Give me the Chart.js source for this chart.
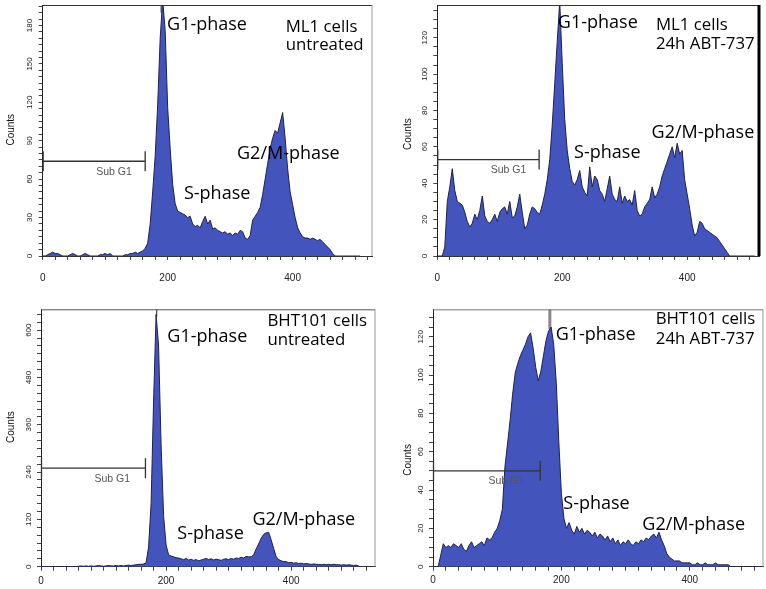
<!DOCTYPE html>
<html>
<head>
<meta charset="utf-8">
<script src="https://cdn.jsdelivr.net/npm/chart.js@4.4.1/dist/chart.umd.min.js"></script>
<style>
  body { margin: 0; background: #fff; width: 766px; height: 589px; position: relative; overflow: hidden; }
  canvas { position: absolute; }
</style>
</head>
<body>
<canvas id="c1" width="383" height="295" style="left:0;top:0"></canvas>
<canvas id="c2" width="383" height="295" style="left:383px;top:0"></canvas>
<canvas id="c3" width="383" height="294" style="left:0;top:295px"></canvas>
<canvas id="c4" width="383" height="294" style="left:383px;top:295px"></canvas>
<script>
// DNA content channels (bin grid of the histograms)
const channels = [
  0,4,8,12,16,20,24,28,32,36, 40,44,48,52,56,60,64,68,72,76,
  80,84,88,92,96,100,104,108,112,116, 120,124,128,132,136,140,144,148,152,156,
  160,164,168,172,176,180,184,188,192,196, 200,204,208,212,216,220,224,228,232,236,
  240,244,248,252,256,260,264,268,272,276, 280,284,288,292,296,300,304,308,312,316,
  320,324,328,332,336,340,344,348,352,356, 360,364,368,372,376,380,384,388,392,396,
  400,404,408,412,416,420,424,428,432,436, 440,444,448,452,456,460,464,468,472,476,
  480,484,488,492,496,500,504,508
];

// counts per channel
const ml1Untreated = [
  0,0,1,2,3,2,2,1,0,0, 0,1,2,1,0,0,1,2,1,0,
  0,0,0,1,1,2,1,2,0,0, 0,0,0,1,1,2,2,3,2,3,
  4,6,10,25,50,78,118,170,200,176, 116,84,56,41,35,34,33,32,30,31,
  25,23,24,22,27,31,25,28,21,22, 20,19,18,19,17,18,16,18,17,20,
  19,14,13,16,28,31,34,38,48,60, 72,84,92,98,96,104,112,92,68,50,
  40,30,22,18,15,14,14,13,14,13, 12,13,11,9,7,5,2,0,0,0,
  0,0,0,0,0,0,0,0
];
const ml1Abt737 = [
  0,0,0,5,30,38,48,36,30,29, 28,24,19,16,18,23,20,25,33,22,
  19,18,20,23,19,24,26,27,23,30, 21,22,27,34,24,15,17,23,27,26,
  24,23,28,34,42,53,72,95,118,140, 106,75,58,48,41,39,42,47,38,35,
  33,49,38,44,42,36,34,30,37,44, 34,31,30,38,29,33,30,31,28,36,
  25,22,23,27,29,31,38,32,34,38, 44,48,52,56,60,54,62,56,58,42,
  34,26,17,11,13,19,18,15,14,13, 12,11,10,8,6,4,2,0,0,0,
  0,0,0,0,0,0,0,0
];
const bhtUntreated = [
  0,0,0,0,0,0,0,0,0,0, 0,0,0,0,0,1,2,1,2,1,
  2,1,2,3,2,1,2,3,2,2, 3,2,3,2,3,4,3,4,5,6,
  6,7,10,50,160,420,640,560,310,130, 55,30,27,25,23,22,20,18,21,17,
  19,16,18,15,17,19,21,18,20,17, 19,18,16,19,20,18,21,19,22,21,
  24,22,26,25,25,30,45,58,72,82, 86,87,68,46,25,18,15,13,13,10,
  11,9,10,8,9,7,8,7,6,7, 6,6,5,6,5,6,5,6,5,5,
  4,5,4,5,4,3,4,2
];
const bhtAbt737 = [
  0,0,0,6,12,10,11,10,12,11, 10,12,9,8,11,13,10,11,12,13,
  11,15,14,15,18,20,24,30,52,64, 76,90,101,106,110,113,116,120,122,114,
  104,97,102,110,118,123,125,116,96,65, 38,25,20,23,19,17,21,18,20,17,
  19,18,16,18,15,17,16,14,16,13, 15,12,14,11,13,12,14,12,11,13,
  12,14,13,15,14,16,17,15,18,14, 11,7,5,4,3,3,3,2,2,2,
  2,1,1,2,1,1,2,1,1,1, 2,1,1,1,1,1,0,0,0,0,
  0,0,0,0,0,0,0,0
];

// labelled ticks
const xTickLabels = [0, 200, 400];
const yTicksMl1Untreated = [0, 30, 60, 90, 120, 150, 180];
const yTicksMl1Abt = [0, 20, 40, 60, 80, 100, 120];
const yTicksBhtUntreated = [0, 120, 240, 360, 480, 600];
const yTicksBhtAbt = [0, 20, 40, 60, 80, 100, 120];

// G1 cursor (channel, top of peak) and Sub G1 gate (end channel, level)
const g1Cursor = [[189.5, 190], [195.7, 132], [185, 634], [182, 124]];
const subG1Gate = [[164, 74], [163, 53], [167, 250], [167, 50]];

const FILL = '#4354bd';
const EDGE = '#1f2250';
const TXT = "'Open Sans', 'Noto Sans', sans-serif";
const BIG = '18px ' + TXT;
const HEAD = '16.8px ' + TXT;

const panels = [
  { id: 'c1', values: ml1Untreated, yMax: 196, xMax: 527, yTicks: yTicksMl1Untreated, yMinor: 5,
    pad: { left: 0, top: 5, right: 11, bottom: 0 }, yWidth: 42.7, xHeight: 39, xPad: 12,
    g1: g1Cursor[0], gate: subG1Gate[0], counts: [31.7, 98.6],
    top: '#333', right: '#999', rightW: 1, cursorColor: '#222', cursorW: 1,
    notes: [['G1-phase', 199, 182, BIG], ['ML1 cells', 389, 180.5, HEAD], ['untreated', 389, 166.5, HEAD],
            ['G2/M-phase', 311, 81, BIG], ['S-phase', 226, 50, BIG]] },
  { id: 'c2', values: ml1Abt737, yMax: 138, xMax: 515, yTicks: yTicksMl1Abt, yMinor: 5,
    pad: { left: 14, top: 5, right: 7, bottom: 0 }, yWidth: 40.3, xHeight: 39, xPad: 12,
    g1: g1Cursor[1], gate: subG1Gate[1], counts: [29.3, 67],
    top: '#333', right: '#000', rightW: 3, cursorColor: '#222', cursorW: 1,
    notes: [['G1-phase', 193, 129, BIG], ['ML1 cells', 350, 128, HEAD], ['24h ABT-737', 350, 117.5, HEAD],
            ['G2/M-phase', 343, 69, BIG], ['S-phase', 219, 58, BIG]] },
  { id: 'c3', values: bhtUntreated, yMax: 653, xMax: 534, yTicks: yTicksBhtUntreated, yMinor: 20,
    pad: { left: 0, top: 14.3, right: 8, bottom: 0 }, yWidth: 41, xHeight: 22.3, xPad: 5,
    g1: g1Cursor[2], gate: subG1Gate[2], counts: [30, 354],
    top: '#555', right: '#999', rightW: 1, cursorColor: '#222', cursorW: 1,
    notes: [['G1-phase', 202, 587, BIG], ['BHT101 cells', 362, 627, HEAD], ['untreated', 362, 580, HEAD],
            ['G2/M-phase', 338, 123, BIG], ['S-phase', 218, 88, BIG]] },
  { id: 'c4', values: bhtAbt737, yMax: 134.3, xMax: 514, yTicks: yTicksBhtAbt, yMinor: 5,
    pad: { left: 14, top: 14.3, right: 3, bottom: 0 }, yWidth: 36, xHeight: 22.3, xPad: 4,
    g1: g1Cursor[3], gate: subG1Gate[3], counts: [25, 55.7],
    top: '#777', right: '#999', rightW: 1, cursorColor: '#888', cursorW: 3,
    notes: [['G1-phase', 191, 122, BIG], ['BHT101 cells', 347, 130, HEAD], ['24h ABT-737', 347, 119.5, HEAD],
            ['S-phase', 203, 34, BIG], ['G2/M-phase', 326, 23, BIG]] }
];

// frame, gate, counts title and phase labels
const decorations = {
  id: 'decorations',
  afterDraw(chart, args, p) {
    const { ctx, chartArea: a, scales: { x, y } } = chart;
    ctx.save();
    // top and right frame
    ctx.strokeStyle = p.top; ctx.lineWidth = 1;
    ctx.beginPath(); ctx.moveTo(a.left, a.top + 0.5); ctx.lineTo(a.right, a.top + 0.5); ctx.stroke();
    ctx.strokeStyle = p.right; ctx.lineWidth = p.rightW;
    ctx.beginPath(); ctx.moveTo(a.right, a.top); ctx.lineTo(a.right, a.bottom); ctx.stroke();

    // Sub G1 gate
    const gx0 = x.getPixelForValue(0), gx1 = x.getPixelForValue(p.gate[0]);
    const gy = y.getPixelForValue(p.gate[1]);
    ctx.strokeStyle = '#333'; ctx.lineWidth = 1.3;
    ctx.beginPath();
    ctx.moveTo(gx0, gy); ctx.lineTo(gx1, gy);
    ctx.moveTo(gx0 + 0.5, gy - 10); ctx.lineTo(gx0 + 0.5, gy + 10);
    ctx.moveTo(gx1, gy - 10); ctx.lineTo(gx1, gy + 10);
    ctx.stroke();
    ctx.fillStyle = '#555';
    ctx.font = "10.5px 'Liberation Sans', Arial, sans-serif";
    ctx.textAlign = 'center'; ctx.textBaseline = 'middle';
    ctx.fillText('Sub G1', x.getPixelForValue(114), gy + 10.5);

    // Counts
    ctx.fillStyle = '#111';
    ctx.font = "10px 'Liberation Sans', Arial, sans-serif";
    ctx.translate(a.left - p.counts[0], y.getPixelForValue(p.counts[1]));
    ctx.rotate(-Math.PI / 2);
    ctx.fillText('Counts', 0, 0);
    ctx.restore();

    // phase labels
    ctx.save();
    ctx.fillStyle = '#000';
    ctx.textAlign = 'left'; ctx.textBaseline = 'middle';
    p.notes.forEach(([t, cx, cy, f]) => {
      ctx.font = f;
      ctx.fillText(t, x.getPixelForValue(cx), y.getPixelForValue(cy) + 2);
    });
    ctx.restore();
  }
};

panels.forEach(p => {
  new Chart(document.getElementById(p.id), {
    type: 'line',
    data: {
      datasets: [
        { data: channels.map((c, i) => ({ x: c, y: p.values[i] })),
          borderColor: EDGE, borderWidth: 1, backgroundColor: FILL, fill: 'origin',
          pointRadius: 0, tension: 0 },
        { data: [{ x: p.g1[0], y: p.g1[1] }, { x: p.g1[0], y: p.yMax }],
          borderColor: p.cursorColor, borderWidth: p.cursorW, fill: false, pointRadius: 0 }
      ]
    },
    options: {
      responsive: false,
      animation: false,
      events: [],
      layout: { padding: p.pad },
      plugins: { legend: { display: false }, tooltip: { enabled: false }, decorations: p },
      scales: {
        x: {
          type: 'linear', min: 0, max: p.xMax,
          afterBuildTicks: s => {
            const t = [];
            for (let v = 0; v <= p.xMax; v += 20) t.push({ value: v });
            s.ticks = t;
          },
          afterFit: s => { s.height = p.xHeight; s.paddingLeft = 0; s.paddingRight = 0; },
          ticks: {
            autoSkip: false, maxRotation: 0, minRotation: 0, padding: p.xPad, color: '#222',
            font: { family: "'Liberation Sans', Arial, sans-serif", size: 10 },
            callback: v => xTickLabels.includes(v) ? String(v) : ''
          },
          grid: { drawOnChartArea: false, tickLength: 4, color: '#444' },
          border: { color: '#333', width: 1 }
        },
        y: {
          min: 0, max: p.yMax,
          afterBuildTicks: s => {
            const t = [];
            for (let v = 0; v <= p.yMax; v += p.yMinor) t.push({ value: v });
            s.ticks = t;
          },
          afterFit: s => { s.width = p.yWidth; s.paddingTop = 0; s.paddingBottom = 0; },
          ticks: {
            autoSkip: false, minRotation: 90, maxRotation: 90, crossAlign: 'center', padding: 2,
            color: '#222', font: { family: "'Liberation Sans', Arial, sans-serif", size: 8 },
            callback: v => p.yTicks.includes(v) ? String(v) : ''
          },
          grid: { drawOnChartArea: false, tickLength: 4, color: '#444' },
          border: { color: '#222', width: 1 }
        }
      }
    },
    plugins: [decorations]
  });
});
</script>
</body>
</html>
